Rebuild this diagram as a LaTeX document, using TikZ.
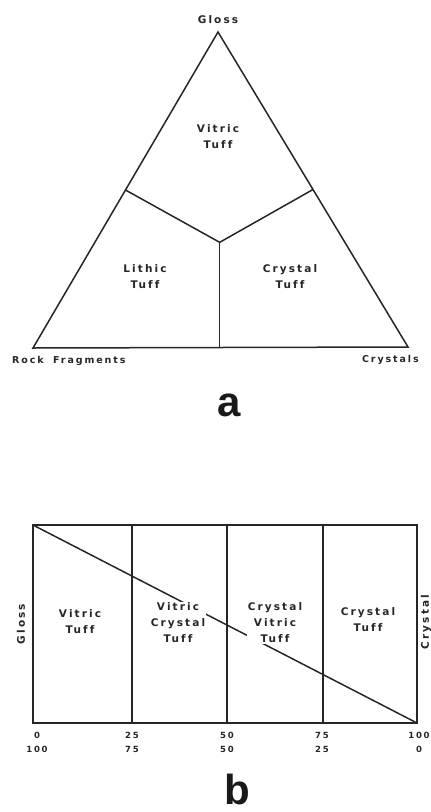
\documentclass[tikz,border=0pt]{standalone}
\usepackage{fontspec}
\setsansfont{DejaVu Sans}[LetterSpace=20, Ligatures={NoCommon}]
\newfontfamily\panelfont{Liberation Sans}
\usetikzlibrary{calc}

\begin{document}
\begin{tikzpicture}[x=1pt, y=-1pt,
    lbl/.style={font=\sffamily\bfseries\fontsize{10.5}{16}\selectfont, align=center, inner sep=1pt, text=black!85},
    corner/.style={font=\sffamily\bfseries\fontsize{9.5}{12}\selectfont, inner sep=1pt, text=black!85},
    tick/.style={font=\sffamily\bfseries\fontsize{8.5}{14}\selectfont, align=center, inner sep=0pt, text=black!85},
    panel/.style={font=\panelfont\bfseries\fontsize{42}{42}\selectfont, inner sep=0pt, text=black!90},
    edge/.style={line width=1.5pt, black!85}]
    \useasboundingbox (0,0) rectangle (431,812);

    % (a) ternary diagram
    \coordinate (gloss) at (218,32);
    \coordinate (rock) at (33,348);
    \coordinate (cryst) at (408,347);
    \coordinate (mid) at ($0.3333*(gloss)+0.3333*(rock)+0.3334*(cryst)$);
    \draw[edge, line join=miter] (gloss) -- (rock) -- (cryst) -- cycle;
    \draw[edge] ($(gloss)!0.5!(rock)$) -- (mid) -- ($(gloss)!0.5!(cryst)$);
    \draw[edge] (mid) -- (mid |- rock);

    \node[lbl] (glossL) at (218,20) {Gloss};
    \node[lbl] (vitric) at (218,137) {Vitric\\Tuff};
    \node[lbl] (lithic) at (145,277) {Lithic\\Tuff};
    \node[lbl] (crystal) at (290,277) {Crystal\\Tuff};
    \node[corner, anchor=west] (rockL) at (11,361) {Rock\hspace{1em}Fragments};
    \node[corner, anchor=east] (crystL) at (420,360) {Crystals};
    \node[panel] (pa) at (229,405) {a};

    % (b) two-component diagram
    \coordinate (tl) at (33,525);
    \coordinate (br) at (417,723);
    \draw[edge] (tl) rectangle (br);
    \foreach \x in {132,227,323}
        \draw[edge] (\x,525) -- (\x,723);
    \draw[edge] (tl) -- (br);

    \node[lbl] (vt) at (80,622) {Vitric\\Tuff};
    \node[lbl, fill=white] (vct) at (178,623) {Vitric\\Crystal\\Tuff};
    \node[lbl, fill=white] (cvt) at (275,623) {Crystal\\Vitric\\Tuff};
    \node[lbl] (ct) at (368,620) {Crystal\\Tuff};
    \node[lbl, rotate=90] (glossB) at (21,624) {Gloss};
    \node[lbl, rotate=90] (crystB) at (426,622) {Crystal};

    \foreach \x/\top/\bot in {37/0/100, 132/25/75, 227/50/50, 322/75/25, 419/100/0}
        \node[tick] at (\x,742) {\top\\\bot};
    \node[panel] (pb) at (237,789) {b};
\end{tikzpicture}
\end{document}
